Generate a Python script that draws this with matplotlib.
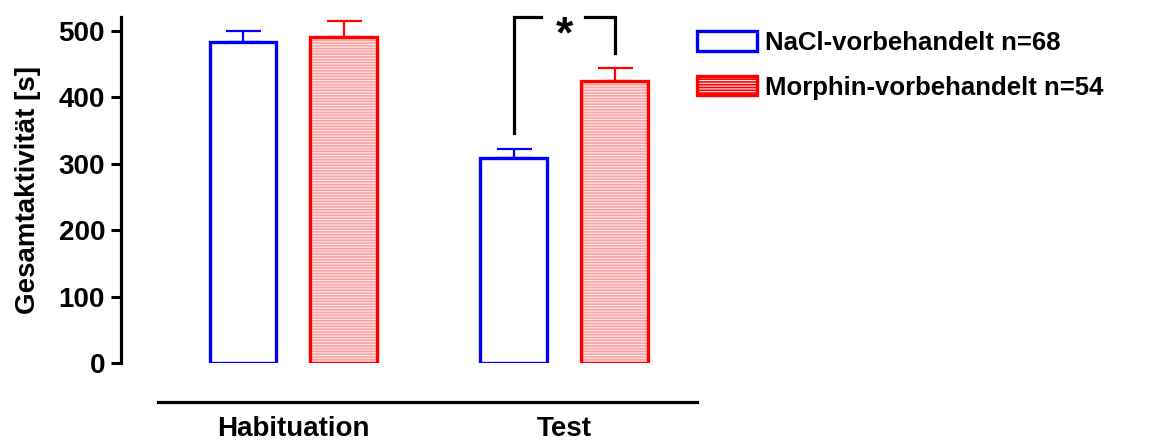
import matplotlib
matplotlib.use("Agg")
import matplotlib.pyplot as plt
import numpy as np
from matplotlib.patches import Patch

plt.rcParams['font.family'] = ['Liberation Sans', 'DejaVu Sans']
plt.rcParams['font.weight'] = 'bold'
plt.rcParams['hatch.linewidth'] = 1.2

phases = ['Habituation', 'Test']
nacl_mean = [483, 309]
nacl_sem = [17, 13]
morph_mean = [491, 425]
morph_sem = [24, 19]
labels = ['NaCl-vorbehandelt n=68', 'Morphin-vorbehandelt n=54']
yticks = [0, 100, 200, 300, 400, 500]

fig = plt.figure(figsize=(11.51, 4.46), dpi=100)
ax = fig.add_axes([158 / 1151, 83 / 446, 539 / 1151, 346 / 446])

x = np.arange(len(phases))
off = 0.186
w = 0.247

# NaCl: open blue bars
ax.bar(x - off, nacl_mean, w, facecolor='white', edgecolor='#0000ff', linewidth=2.4, zorder=3)
ax.errorbar(x - off, nacl_mean, yerr=[np.zeros(2), nacl_sem], fmt='none',
            ecolor='#0000ff', elinewidth=1.6, capsize=12.6, capthick=1.6, zorder=2)

# Morphin: pink hatched fill under red outline
ax.bar(x + off, morph_mean, w, facecolor='#ffeaea', edgecolor='#ffa0a0', hatch='------',
       linewidth=0, zorder=3)
ax.bar(x + off, morph_mean, w, facecolor='none', edgecolor='#ff0000', linewidth=2.4, zorder=4)
ax.errorbar(x + off, morph_mean, yerr=[np.zeros(2), morph_sem], fmt='none',
            ecolor='#ff0000', elinewidth=1.6, capsize=12.6, capthick=1.6, zorder=2)

# significance bracket for Test
xl, xr = x[1] - off, x[1] + off
ytop = 521
ax.plot([xl, xl, xl + 0.1], [346, ytop, ytop], color='black', lw=2.3,
        clip_on=False, solid_joinstyle='miter')
ax.plot([xr - 0.11, xr, xr], [ytop, ytop, 467], color='black', lw=2.3,
        clip_on=False, solid_joinstyle='miter')
ax.text(x[1], ytop + 3, '*', ha='center', va='top', fontsize=32, fontweight='bold', clip_on=False)

ax.set_xlim(-0.5, 1.49)
ax.set_ylim(0, 521)
ax.set_yticks(yticks)
ax.set_xticks(x)
ax.set_xticklabels(phases)
ax.tick_params(axis='x', length=0, pad=10, labelsize=20)
ax.tick_params(axis='y', length=7.5, width=2.2, labelsize=20, pad=4)
ax.set_ylabel('Gesamtaktivität [s]', fontsize=20, fontweight='bold', labelpad=13)

for s in ['top', 'right']:
    ax.spines[s].set_visible(False)
ax.spines['left'].set_position(('outward', 26.6))
ax.spines['left'].set_linewidth(2.3)
ax.spines['bottom'].set_position(('outward', 28))
ax.spines['bottom'].set_linewidth(2.3)

handles = [Patch(facecolor='white', edgecolor='#0000ff', linewidth=2.4),
           Patch(facecolor='#ffeaea', edgecolor='#ff0000', hatch='------', linewidth=2.4)]
leg = fig.legend(handles, labels, loc='upper left', bbox_to_anchor=(697 / 1151, 1 - 31 / 446),
                 frameon=False, fontsize=18.5, handlelength=2.35, handleheight=0.8,
                 handletextpad=0.3, labelspacing=0.8, borderaxespad=0, borderpad=0)

fig.savefig('out.png', dpi=100)
